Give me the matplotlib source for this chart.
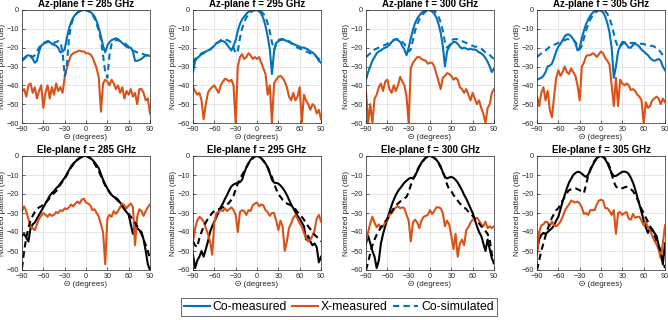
import numpy as np
import matplotlib
matplotlib.use("Agg")
import matplotlib.pyplot as plt

plt.rcParams['font.family'] = ['Liberation Sans', 'DejaVu Sans']

# angle grid (degrees), 3 deg step
theta = np.arange(-90, 91, 3)

# ---- Az-plane ----
az285_co = [-26.5, -25.5, -24.5, -24, -24.5, -26, -28, -27, -22, -19,
            -18, -17.5, -17, -17, -18, -18.5, -19, -20, -22.5, -22,
            -21, -15, -10, -6.5, -4, -2.5, -1.5, -0.8, -0.2, 0,
            0, -0.3, -1, -2, -3.5, -6, -9.5, -14, -19, -22.5,
            -19, -17, -16, -15.5, -15, -15.5, -16.5, -17.5, -18.5, -19.5,
            -20, -20, -22, -27, -27, -26.5, -26, -25, -24, -24, -24.5]
az285_sim = [-27, -26, -25, -24.5, -24, -25, -24, -22, -20, -18.5,
             -17.5, -17, -16.5, -16.5, -17, -17.5, -17, -16.5, -17, -22,
             -35, -30, -15, -8, -4.5, -2.5, -1.2, -0.5, -0.1, 0,
             -0.2, -0.6, -1.3, -2.5, -4.5, -7.5, -11, -16, -24, -33,
             -36, -24, -18, -16.5, -16, -16, -16.5, -17, -17.5, -18.5,
             -19.5, -20.5, -21.5, -22, -22.5, -23, -23, -23.5, -24, -24.5, -25]
az285_x = [-43, -42, -46, -40, -39, -44, -41, -47, -43, -40,
           -52, -44, -40, -47, -41, -45, -39, -43, -41, -44,
           -36, -31, -27, -24, -23, -22.5, -22, -21.5, -22, -22,
           -23, -23, -23.5, -25, -28, -31, -36, -54, -39, -37,
           -38, -40, -37, -39, -42, -40, -44, -41, -47, -43,
           -45, -42, -46, -44, -50, -42, -42, -44, -48, -47, -55]

az295_co = [-33, -27, -25.5, -24.5, -23.5, -23, -22, -21.5, -21, -20,
            -19, -17.5, -17, -16.5, -16.5, -17, -18.5, -20, -21.5, -19,
            -16, -11, -7.5, -5, -3.5, -2, -1, -0.5, -0.1, 0,
            -0.2, -0.6, -2, -4.5, -8.5, -14, -21, -34, -22, -17.5,
            -16.5, -16, -15.7, -16, -16.5, -17, -17.5, -18, -18.5, -19,
            -19.5, -20, -20, -20.5, -21, -22, -22.5, -23.5, -25, -27, -28]
az295_sim = [-28, -26, -25, -24, -23, -22.5, -22, -21.5, -21, -20,
             -19, -18, -17, -16, -15.5, -15.5, -16, -16.5, -17.5, -20,
             -23, -22, -15, -10, -6.5, -4, -2.3, -1.2, -0.5, -0.1,
             0, -0.2, -0.8, -2, -4, -7, -11.5, -17, -21, -18,
             -16, -15.5, -15.5, -15.5, -16, -16.5, -17.5, -18.5, -19.5, -20,
             -20.5, -21, -21.5, -22, -22.5, -23, -23.5, -24, -25, -26, -27]
az295_x = [-41, -43, -45, -44, -48, -58, -50, -44, -42, -41,
           -40, -42, -44, -40, -38, -36.5, -37, -38, -37, -40,
           -60, -30, -25, -23.5, -26, -25, -23, -24, -26, -25,
           -26, -25, -28, -31, -34, -45, -40, -60, -39, -37,
           -35.5, -35, -36, -38, -41, -46, -48, -44, -48, -46,
           -41, -60, -45, -48, -50, -53, -50, -51, -55, -53, -58]

az300_co = [-37, -33, -30, -27, -25, -23, -22, -21.5, -20.5, -20,
            -19.5, -18.5, -17, -16, -15.5, -16, -17, -19, -21, -24,
            -20, -15, -10.5, -7, -4.5, -3, -1.5, -0.7, -0.2, 0,
            -0.2, -0.8, -2, -4, -7.5, -12, -19, -30, -22, -19.5,
            -18, -17, -17, -18, -19.5, -20.5, -20, -20.5, -21, -20.5,
            -21, -21, -21.5, -22.5, -23, -24, -25.5, -27.5, -30, -33, -31]
az300_sim = [-25, -24, -23, -22, -21, -20.5, -20, -19.5, -19, -18.5,
             -18, -17, -16.5, -16, -15.5, -15.5, -16, -17, -18, -20,
             -22, -21, -16, -11, -7.5, -5, -3, -1.8, -0.8, -0.2,
             0, 0, -0.5, -1.5, -3.5, -6.5, -11, -17, -20, -19,
             -16.5, -15.5, -15.5, -15.5, -16, -16.5, -17, -17.5, -18, -18.5,
             -19, -19.5, -19.5, -20, -20.5, -21.5, -22.5, -23, -24, -25, -26]
az300_x = [-43, -60, -50, -60, -47, -45, -41, -39, -43, -38,
           -37, -42, -44, -40, -43, -40, -35.5, -38, -40, -46,
           -60, -31, -28, -26.5, -25, -25, -26, -26.5, -27, -28.5,
           -28, -28, -30, -34, -38, -42, -36, -35, -33.5, -34,
           -35, -37, -36, -37, -41, -42, -44, -42, -45, -48,
           -44, -47, -50, -48, -52, -55, -60, -52, -50, -44, -42]

az305_co = [-37, -36.5, -36, -35, -33, -30, -29.5, -28.5, -25.5, -22,
            -19.5, -18, -16, -14, -13, -13, -14, -15.5, -17.5, -21.5,
            -20, -15, -11, -7.5, -5, -3, -1.5, -0.6, -0.1, 0,
            -0.4, -1.3, -3.5, -7, -12, -20, -36, -30, -22, -19,
            -17, -17, -18.5, -20, -20, -18.5, -18, -18.5, -19.5, -21,
            -22, -23, -24, -25.5, -26.5, -27, -26.5, -26, -27, -30, -32]
az305_sim = [-25, -24, -23, -22, -21.5, -20.5, -19.5, -19, -18.5, -18,
             -17.5, -17, -16.5, -16, -15.5, -15.5, -15.5, -16, -17, -19,
             -21, -19, -15, -11, -7.5, -5, -3, -1.8, -0.8, -0.2,
             0, 0, -0.6, -2, -4.5, -8, -12.5, -17, -19.5, -19.5,
             -18, -17.5, -17.5, -17.5, -17.5, -17.5, -17.5, -17.5, -17.5, -18,
             -18, -18.5, -18.5, -19, -19, -19.5, -20, -21, -22.5, -24, -25]
az305_x = [-46, -51, -44, -41, -48, -43, -53, -57, -46, -36,
           -32, -35, -33, -30, -33, -34, -31, -33, -35, -40,
           -48, -30, -28, -24.5, -24, -24, -23, -23.5, -25, -23.5,
           -22, -23, -25.5, -27, -29, -40, -51, -36, -51, -37,
           -39, -40, -39, -40, -42.5, -42, -43, -45, -46, -48,
           -60, -49, -52, -51, -48, -47, -46, -47, -50, -47, -49]

# ---- Ele-plane ----
el285_co = [-42, -41, -43, -45, -38, -36, -35, -33, -31, -29,
            -27, -25, -23, -21, -19.5, -18.5, -17, -16, -14.5, -13,
            -11.5, -9.5, -7.5, -5.5, -4, -3, -2, -1.2, -0.5, -0.1,
            0, -0.3, -1, -2, -3.3, -4.8, -6.5, -9.5, -12.5, -15,
            -17, -19, -20.5, -21.5, -22, -23, -24.5, -26, -28, -29.5,
            -31, -36, -41, -36, -38, -39, -40, -44, -50, -57, -60]
el285_sim = [-59, -50, -43, -38, -34, -31.5, -29.5, -28, -27, -26.5,
             -25.5, -24.5, -23.5, -22, -20.5, -19.5, -18.5, -17, -15, -13.5,
             -12, -10, -8, -6, -4.5, -3, -1.8, -1, -0.4, -0.1,
             0, -0.5, -1.3, -2.5, -4, -6, -8, -10.5, -13, -15.5,
             -17.5, -19, -20.5, -21.5, -22.5, -23.5, -25, -26.5, -28, -29,
             -30.5, -32, -33.5, -35, -37, -39, -41, -44, -47, -50, -54]
el285_x = [-29, -26.5, -29, -33, -37, -38, -39, -36, -33, -31.5,
           -30, -31, -32, -30.5, -31.5, -31, -29.5, -30, -28.5, -29,
           -27.5, -28, -27, -25.5, -26.5, -25, -24, -25, -23, -22.5,
           -24.5, -25, -26, -28.5, -28, -30, -32, -36, -40, -57,
           -33, -31, -32, -29, -30.5, -29, -27, -25, -26, -27.5,
           -26, -25, -27, -47, -32, -28, -29, -31.5, -29, -27, -25.5]

el295_co = [-52, -59, -55, -53, -50, -53, -49, -45, -40, -37,
            -34.5, -32, -29.5, -27, -25, -22.5, -20.5, -18, -16, -15,
            -14.5, -14, -13.8, -12.5, -9, -6, -3.8, -2, -0.8, -0.2,
            0, -0.4, -1.2, -2.5, -4, -6, -9, -12.5, -14, -14.2,
            -14.5, -15.5, -16.8, -18.5, -20.5, -23, -25.5, -27.5, -29.5, -31.5,
            -33, -35, -37, -44, -42, -45, -47, -46, -48, -56, -53]
el295_sim = [-45, -47, -48, -43, -40, -37, -35, -33, -31.5, -30,
             -29, -28.5, -28, -27.5, -27, -26.5, -25.5, -24.5, -23, -21,
             -17.5, -14.5, -12, -10, -8, -6, -4, -2.5, -1.2, -0.3,
             0, -0.4, -1.2, -2.5, -4, -6, -8.5, -11, -14.5, -17.5,
             -20, -21.5, -23, -24, -25, -25.5, -26, -27, -28, -29.5,
             -31, -32, -33.5, -35.5, -37, -38.5, -40, -41.5, -42.5, -44, -45]
el295_x = [-45, -38, -34, -32, -33, -34.5, -38, -41, -45, -52,
           -35, -30, -29.5, -28.5, -29, -27.5, -29, -28, -27, -28.5,
           -31, -40, -29.5, -28.5, -29, -31, -28.5, -29, -26, -25,
           -24.5, -26.5, -25.5, -26, -28.5, -29.5, -31.5, -30, -30, -34,
           -39, -34, -37, -50, -45, -38, -35.5, -32.5, -31, -33,
           -35.5, -37, -40.5, -43, -45, -44, -42, -39, -33, -31, -34.5]

el300_co = [-46, -42, -46, -50, -53, -59, -55, -46, -41, -37,
            -33, -29.5, -26, -23, -20.5, -18.5, -17, -15.5, -14, -13,
            -12, -11.5, -11.8, -10.5, -8, -5.5, -3.5, -2, -0.8, -0.2,
            0, -0.3, -1, -2, -3.5, -5.5, -8.5, -11, -11.8, -11.3,
            -11, -11.5, -12.5, -14, -16, -18, -20.5, -22.5, -25, -27.5,
            -30, -33.5, -37, -40, -42, -46, -50, -44, -49, -54, -56]
el300_sim = [-60, -56, -51, -47, -44, -41.5, -39.5, -37.5, -36, -34.5,
             -33, -31.5, -29.5, -27.5, -26, -25, -24, -23, -22.3, -21.5,
             -19, -15.3, -12.5, -10, -7.5, -5.5, -3.8, -2.3, -1, -0.3,
             0, -0.3, -1, -2.2, -3.8, -6, -8.5, -11, -15, -17.5,
             -18.5, -20.5, -22, -23.5, -25, -26, -27, -28, -29.3, -30.5,
             -31.5, -33, -34.5, -35.5, -37, -38, -39.5, -41, -44, -52, -57]
el300_x = [-45, -40, -35.5, -32, -35, -37.5, -36, -38, -37, -35,
           -34, -31, -30, -28.5, -27, -26.5, -27.5, -27, -27.5, -31,
           -34, -45, -35, -33.5, -35, -38, -34, -32, -31.5, -31,
           -28.5, -30.5, -29, -27, -27, -27.5, -30, -37, -34, -36,
           -42, -49, -41, -53, -46, -44, -47, -39, -37.5, -35,
           -33.5, -33, -32.5, -34, -36, -37, -34.5, -38, -37, -38, -37]

el305_co = [-50, -44, -41.5, -40.5, -41, -40, -39, -38, -36.5, -34,
            -32, -28, -24, -20.5, -17, -14, -12, -10, -9, -8.3,
            -8.5, -9.3, -10.3, -11, -9.8, -7.5, -5, -3, -1.3, -0.3,
            0, -0.5, -1.8, -3.8, -6.5, -9, -10.5, -10.5, -9.8, -9,
            -8.3, -8.2, -8.5, -9.5, -11.5, -14, -17.5, -21.5, -25.5, -29.5,
            -34, -37.5, -40.5, -38, -38.5, -40.5, -42, -47, -50.5, -57, -46]
el305_sim = [-60, -55, -50, -46, -42, -38.5, -35, -32.5, -30.5, -28.5,
             -27.5, -25.5, -23.5, -21.5, -19.5, -18, -17.5, -17, -17, -17.5,
             -18, -19, -19.5, -15, -10.5, -7, -4.5, -2.5, -1, -0.2,
             0, -0.4, -1.2, -2.8, -5.5, -9.5, -13.5, -16, -17, -17,
             -17, -16.5, -16.2, -16.5, -17.5, -18.5, -20.5, -22.5, -25, -28,
             -30, -32.5, -34.5, -37, -39, -41.5, -44.5, -47, -51, -55, -59]
el305_x = [-52, -40, -36.5, -36, -34.5, -35, -37, -34.5, -36.5, -37,
           -36, -34.5, -32, -29, -27, -25.5, -23.5, -24, -24.5, -24,
           -25, -27, -30.5, -30, -31, -28.5, -28.5, -28.5, -25.5, -23.5,
           -23, -23.5, -27.5, -27.5, -29, -31, -28.5, -41, -30, -29.5,
           -31, -30, -29.5, -33, -33.5, -30.5, -32.5, -32, -32, -34,
           -36.5, -34.5, -37.5, -39, -42, -44.5, -46.5, -49, -54, -46, -36.5]

freqs = [285, 295, 300, 305]
az_panels = [(az285_co, az285_x, az285_sim), (az295_co, az295_x, az295_sim),
             (az300_co, az300_x, az300_sim), (az305_co, az305_x, az305_sim)]
el_panels = [(el285_co, el285_x, el285_sim), (el295_co, el295_x, el295_sim),
             (el300_co, el300_x, el300_sim), (el305_co, el305_x, el305_sim)]

blue = '#0072BD'
orange = '#D95319'
W, H = 668, 320
fig = plt.figure(figsize=(W / 100, H / 100), dpi=100)

lefts = [22, 193, 366, 537]
rows = [(10, 123), (156, 270)]


def style(ax, title):
    ax.set_xlim(-90, 90)
    ax.set_ylim(-60, 0)
    ax.set_xticks(np.arange(-90, 91, 30))
    ax.set_yticks(np.arange(-60, 1, 10))
    ax.grid(True, color='#dcdcdc', lw=0.5)
    ax.set_axisbelow(True)
    ax.tick_params(direction='in', length=2.5, width=0.5, labelsize=5.2,
                   colors='#262626', pad=2)
    for s in ax.spines.values():
        s.set_linewidth(0.5)
        s.set_color('#262626')
    ax.set_title(title, fontsize=7, fontweight='bold', pad=2)
    ax.set_xlabel('\u0398 (degrees)', fontsize=5.8, labelpad=1, color='#262626')
    ax.set_ylabel('Normalized pattern (dB)', fontsize=5.8, color='#262626')
    ax.yaxis.set_label_coords(-16 / 128, 0.5)


for r, (plane, panels, cocol) in enumerate([('Az', az_panels, blue),
                                            ('Ele', el_panels, 'black')]):
    top, bot = rows[r]
    for i, f in enumerate(freqs):
        ax = fig.add_axes([lefts[i] / W, 1 - bot / H, 128 / W, (bot - top) / H])
        co, xp, sim = panels[i]
        ax.plot(theta, co, color=cocol, lw=1.5)
        ax.plot(theta, xp, color=orange, lw=1.5)
        ax.plot(theta, sim, color=cocol, lw=1.5, ls=(0, (3, 2)))
        style(ax, f'{plane}-plane f = {f} GHz')

h1, = plt.plot([], [], color=blue, lw=1.5, label='Co-measured')
h2, = plt.plot([], [], color=orange, lw=1.5, label='X-measured')
h3, = plt.plot([], [], color=blue, lw=1.5, ls=(0, (3, 2)), label='Co-simulated')
fig.legend(handles=[h1, h2, h3], loc='center', ncol=3,
           bbox_to_anchor=(339 / W, 1 - 307 / H), fontsize=8.8,
           frameon=True, fancybox=False, edgecolor='#262626',
           handlelength=2.1, columnspacing=0.4, handletextpad=0.25,
           borderpad=0.25, borderaxespad=0).get_frame().set_linewidth(0.6)

fig.savefig('out.png', dpi=100)
